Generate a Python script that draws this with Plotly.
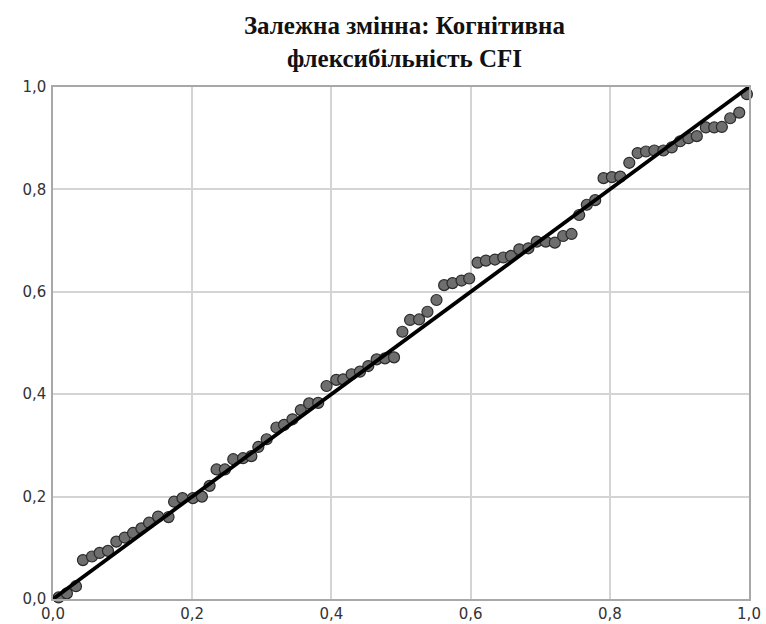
import plotly.graph_objects as go

title_text = "Залежна змінна: Когнітивна<br>флексибільність CFI"

observed_cum_prob = [
    0.008, 0.020, 0.033, 0.043, 0.056, 0.067, 0.079, 0.091, 0.103, 0.115, 0.127, 0.138,
    0.151, 0.166, 0.174, 0.186, 0.201, 0.214, 0.225, 0.235, 0.247, 0.259, 0.273,
    0.285, 0.295, 0.307, 0.321, 0.332, 0.344, 0.356, 0.368, 0.381, 0.393, 0.407,
    0.417, 0.429, 0.441, 0.453, 0.465, 0.477, 0.490, 0.502, 0.513, 0.526, 0.538,
    0.551, 0.562, 0.574, 0.587, 0.598, 0.610, 0.622, 0.635, 0.647, 0.658, 0.670,
    0.683, 0.695, 0.708, 0.721, 0.733, 0.745, 0.756, 0.767, 0.779, 0.791, 0.803,
    0.815, 0.828, 0.840, 0.852, 0.864, 0.877, 0.889, 0.901, 0.913, 0.925, 0.938,
    0.950, 0.961, 0.973, 0.986, 0.997,
]
expected_cum_prob = [
    0.003, 0.011, 0.025, 0.076, 0.083, 0.090, 0.094, 0.112, 0.120, 0.129, 0.138, 0.149,
    0.161, 0.160, 0.190, 0.197, 0.197, 0.200, 0.221, 0.253, 0.253, 0.273, 0.275,
    0.279, 0.297, 0.312, 0.335, 0.340, 0.351, 0.369, 0.382, 0.383, 0.416, 0.428,
    0.429, 0.439, 0.444, 0.455, 0.468, 0.470, 0.472, 0.522, 0.545, 0.546, 0.561,
    0.584, 0.613, 0.617, 0.622, 0.626, 0.657, 0.661, 0.663, 0.667, 0.670, 0.683,
    0.685, 0.698, 0.698, 0.696, 0.709, 0.713, 0.750, 0.770, 0.779, 0.822, 0.824,
    0.825, 0.852, 0.871, 0.874, 0.876, 0.876, 0.882, 0.894, 0.900, 0.904, 0.921,
    0.921, 0.922, 0.939, 0.950, 0.986,
]
ref_line_x = [0.0, 1.0]
ref_line_y = [0.0, 1.0]
tick_vals = [0.0, 0.2, 0.4, 0.6, 0.8, 1.0]
tick_text = ["0,0", "0,2", "0,4", "0,6", "0,8", "1,0"]

fig = go.Figure()
fig.add_trace(go.Scatter(
    x=observed_cum_prob, y=expected_cum_prob, mode="markers",
    marker=dict(size=11, color="#6e6e6e", line=dict(color="#2a2a2a", width=1.2)),
    cliponaxis=False, showlegend=False,
))
fig.add_trace(go.Scatter(
    x=ref_line_x, y=ref_line_y, mode="lines",
    line=dict(color="black", width=3.8),
    cliponaxis=False, showlegend=False,
))

axis_common = dict(
    range=[0, 1], tickvals=tick_vals, ticktext=tick_text,
    showgrid=True, gridcolor="#d4d4d4", gridwidth=1.5,
    zeroline=False, showline=True, linecolor="#a8a8a8", linewidth=1.5,
    mirror=True, ticks="", automargin=False,
    tickfont=dict(family="DejaVu Sans", size=15, color="#333333"),
)

fig.update_layout(
    width=766, height=624,
    margin=dict(l=53, r=17, t=87, b=25),
    paper_bgcolor="white", plot_bgcolor="white",
    title=dict(
        text="<b>" + title_text + "</b>",
        x=0.528, xanchor="center", yref="container", y=0.945, yanchor="top",
        automargin=False,
        font=dict(family="Liberation Serif", size=25, color="#111111"),
    ),
    xaxis=dict(**axis_common),
    yaxis=dict(**axis_common, ticklabelstandoff=2),
)

fig.write_html(
    "out.html",
    config={"displayModeBar": False},
    post_script="document.body.style.margin='0';document.body.style.overflow='hidden';",
)
